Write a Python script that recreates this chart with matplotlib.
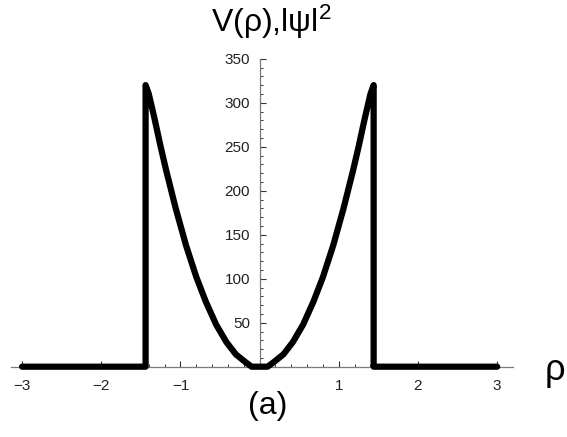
import matplotlib
matplotlib.use("Agg")
import matplotlib.pyplot as plt
from matplotlib.ticker import FixedLocator

# Data
rho = [-3.0, -1.44, -1.44, -1.40, -1.33, -1.25, -1.18, -1.06, -0.93, -0.80,
       -0.68, -0.55, -0.42, -0.30, -0.17, -0.10, 0.10, 0.17, 0.30, 0.42,
       0.55, 0.68, 0.80, 0.93, 1.06, 1.18, 1.25, 1.33, 1.40, 1.44, 1.44, 3.0]
vals = [0, 0, 320, 310, 283, 250, 223, 180, 138, 102,
        74, 48, 28, 14, 4.6, 0, 0, 4.6, 14, 28,
        48, 74, 102, 138, 180, 223, 250, 283, 310, 320, 0, 0]

x_major = [-3, -2, -1, 1, 2, 3]
x_labels = ["\u22123", "\u22122", "\u22121", "1", "2", "3"]
y_major = [50, 100, 150, 200, 250, 300, 350]

plt.rcParams['font.family'] = ['Liberation Sans', 'DejaVu Sans']
plt.rcParams['mathtext.fontset'] = 'custom'
plt.rcParams['mathtext.rm'] = 'Liberation Sans'
plt.rcParams['mathtext.it'] = 'Liberation Sans:italic'

fig = plt.figure(figsize=(5.67, 4.37), dpi=100)
ax = fig.add_axes([11/567, 70.3/437, 502/567, 308/437])
ax.plot(rho, vals, color='black', lw=4.5, solid_capstyle='round',
        solid_joinstyle='round', clip_on=False, zorder=3)

ax.set_xlim(-3.14, 3.20)
ax.set_ylim(0, 350)

for s in ['top', 'right']:
    ax.spines[s].set_visible(False)
ax.spines['left'].set_position(('data', 0))
ax.spines['bottom'].set_position(('data', 0))
for s in ['left', 'bottom']:
    ax.spines[s].set_color('#7a7a7a')
    ax.spines[s].set_linewidth(0.9)

ax.xaxis.set_major_locator(FixedLocator(x_major))
ax.set_xticklabels(x_labels)
ax.xaxis.set_minor_locator(FixedLocator([i * 0.2 for i in range(-15, 16)
                                         if i % 5 != 0]))
ax.yaxis.set_major_locator(FixedLocator(y_major))
ax.yaxis.set_minor_locator(FixedLocator([v for v in range(10, 351, 10) if v % 50 != 0]))

ax.tick_params(axis='both', which='major', direction='in', length=4.5,
               width=0.8, color='#333333', labelsize=11, labelcolor='#222222')
ax.tick_params(axis='both', which='minor', direction='in', length=2.3,
               width=0.7, color='#333333')
ax.tick_params(axis='x', which='major', pad=9)
ax.tick_params(axis='y', which='major', pad=7)

fig.text(271/567, 1 - 22/437, "V(\u03c1),l\u03c8l$^{\\mathrm{2}}$", fontsize=23,
         ha='center', va='center')
fig.text(555/567, 1 - 370/437, "\u03c1", fontsize=26, ha='center', va='center')
fig.text(268/567, 1 - 406/437, "(a)", fontsize=23, ha='center', va='center')

fig.savefig("out.png", dpi=100)
